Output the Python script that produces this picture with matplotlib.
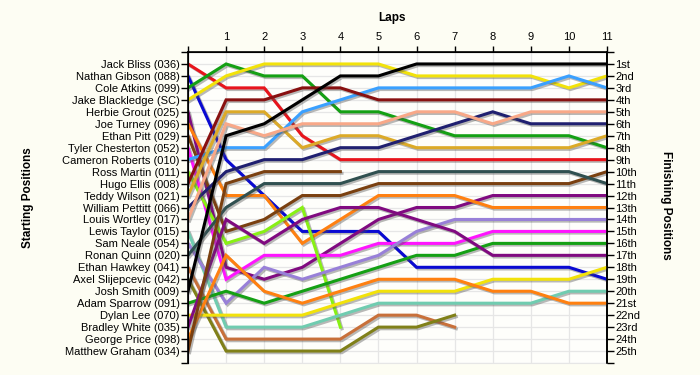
import matplotlib.pyplot as plt
import matplotlib.patheffects as pe

drivers = ["Jack Bliss (036)", "Nathan Gibson (088)", "Cole Atkins (099)", "Jake Blackledge (SC)",
           "Herbie Grout (025)", "Joe Turney (096)", "Ethan Pitt (029)", "Tyler Chesterton (052)",
           "Cameron Roberts (010)", "Ross Martin (011)", "Hugo Ellis (008)", "Teddy Wilson (021)",
           "William Pettitt (066)", "Louis Wortley (017)", "Lewis Taylor (015)", "Sam Neale (054)",
           "Ronan Quinn (020)", "Ethan Hawkey (041)", "Axel Slijepcevic (042)", "Josh Smith (009)",
           "Adam Sparrow (091)", "Dylan Lee (070)", "Bradley White (035)", "George Price (098)",
           "Matthew Graham (034)"]
finish_labels = ["1st", "2nd", "3rd", "4th", "5th", "6th", "7th", "8th", "9th", "10th", "11th",
                 "12th", "13th", "14th", "15th", "16th", "17th", "18th", "19th", "20th", "21st",
                 "22nd", "23rd", "24th", "25th"]
lap_ticks = list(range(1, 12))

# position after each lap (lap 0 = grid), shorter lists = retired
bliss = [1, 3, 3, 7, 9, 9, 9, 9, 9, 9, 9, 9]
gibson = [2, 9, 12, 15, 15, 15, 18, 18, 18, 18, 18, 19]
atkins = [3, 1, 2, 2, 5, 5, 6, 7, 7, 7, 7, 8]
blackledge = [4, 2, 1, 1, 1, 1, 2, 2, 2, 2, 3, 2]
grout = [5, 18, 19, 18, 16, 14, 13, 13, 12, 12, 12, 12]
turney = [6, 12, 12, 16, 14, 12, 12, 12, 13, 13, 13, 13]
pitt = [7, 15, 14, 12, 12, 11, 11, 11, 11, 11, 11, 10]
chesterton = [8, 19, 17, 17, 17, 16, 16, 16, 15, 15, 15, 15]
roberts = [9, 8, 8, 5, 4, 3, 3, 3, 3, 3, 2, 3]
martin = [10, 16, 15, 13, 23]
ellis = [11, 4, 4, 3, 3, 4, 4, 4, 4, 4, 4, 4]
wilson = [12, 5, 5, 8, 7, 7, 8, 8, 8, 8, 8, 7]
pettitt = [13, 10, 9, 9, 8, 8, 7, 6, 5, 6, 6, 6]
wortley = [14, 6, 7, 6, 6, 6, 5, 5, 6, 5, 5, 5]
taylor = [15, 23, 23, 23, 22, 21, 21, 21, 21, 21, 20, 20]
neale = [16, 21, 18, 19, 18, 17, 15, 14, 14, 14, 14, 14]
quinn = [17, 13, 11, 11, 11, 10, 10, 10, 10, 10, 10, 11]
hawkey = [18, 24, 24, 24, 24, 22, 22, 23]
slijepcevic = [19, 25, 25, 25, 25, 23, 23, 22]
smith = [20, 7, 6, 4, 2, 2, 1, 1, 1, 1, 1, 1]
sparrow = [21, 20, 21, 20, 19, 18, 17, 17, 16, 16, 16, 16]
lee = [22, 22, 22, 22, 21, 20, 20, 20, 19, 19, 19, 18]
white = [23, 14, 16, 14, 13, 13, 14, 15, 17, 17, 17, 17]
price = [24, 17, 20, 21, 20, 19, 19, 19, 20, 20, 21, 21]
graham = [25, 11, 10, 10, 10]

positions = [bliss, gibson, atkins, blackledge, grout, turney, pitt, chesterton, roberts, martin,
             ellis, wilson, pettitt, wortley, taylor, neale, quinn, hawkey, slijepcevic, smith,
             sparrow, lee, white, price, graham]

colors = ["#e8141c", "#0a0ad2", "#14a014", "#f2e20a", "#800a80", "#ff8010", "#7a4010", "#ff14ff",
          "#3aa0ff", "#88f014", "#881010", "#dcaa28", "#202070", "#f8a888", "#70ccb0", "#9880d8",
          "#305050", "#c8703a", "#808018", "#000000", "#14a014", "#f2e20a", "#800a80", "#ff8010",
          "#7a4010"]

fig = plt.figure(figsize=(7, 3.75), dpi=100, facecolor="#fdfdf3")
ax = fig.add_axes([188 / 700, 1 - 363 / 375, (607 - 188) / 700, (363 - 52) / 375])
ax.set_facecolor("#fefefb")

shadow = [pe.SimpleLineShadow(offset=(1.2, -1.2), shadow_color="#505050", alpha=0.4), pe.Normal()]
for pos, col in zip(positions, colors):
    ax.plot(range(len(pos)), pos, color=col, lw=2.2, solid_joinstyle="miter",
            path_effects=shadow, zorder=3)

ax.set_xlim(0, 11)
ax.set_ylim(26, 0)
ax.set_xticks(range(0, 12))
ax.set_xticklabels([""] + [str(t) for t in lap_ticks], fontsize=8, family="Liberation Sans")
ax.xaxis.tick_top()
ax.tick_params(axis="x", which="both", length=4, width=1, pad=3, bottom=False)
ax.set_yticks(range(0, 27))
ax.set_yticklabels([""] + drivers + [""], fontsize=8, family="Liberation Sans")
ax.tick_params(axis="y", length=5, width=1, pad=1)
ax.grid(color="#e6e6e6", lw=0.9, zorder=0)
ax.set_axisbelow(True)
for s in ["left", "top", "right"]:
    ax.spines[s].set_linewidth(1.2)
ax.spines["bottom"].set_color("#e6e6e6")

ax2 = ax.twinx()
ax2.set_ylim(26, 0)
ax2.set_yticks(range(0, 27))
ax2.set_yticklabels([""] + finish_labels + [""], fontsize=8, family="Liberation Sans")
ax2.tick_params(axis="y", length=5, width=1, pad=1)
ax2.spines["right"].set_linewidth(1.2)
ax2.spines["bottom"].set_visible(False)

fig.text(392 / 700, 1 - 18 / 375, "Laps", ha="center", va="center", fontsize=8.5,
         fontweight="bold", family="Liberation Sans")
fig.text(28 / 700, 1 - 198 / 375, "Starting Positions", ha="center", va="center", rotation=90,
         fontsize=8.5, fontweight="bold", family="Liberation Sans")
fig.text(666 / 700, 1 - 205 / 375, "Finishing Positions", ha="center", va="center", rotation=270,
         fontsize=8.5, fontweight="bold", family="Liberation Sans")

plt.savefig("out.png", dpi=100, facecolor=fig.get_facecolor())
